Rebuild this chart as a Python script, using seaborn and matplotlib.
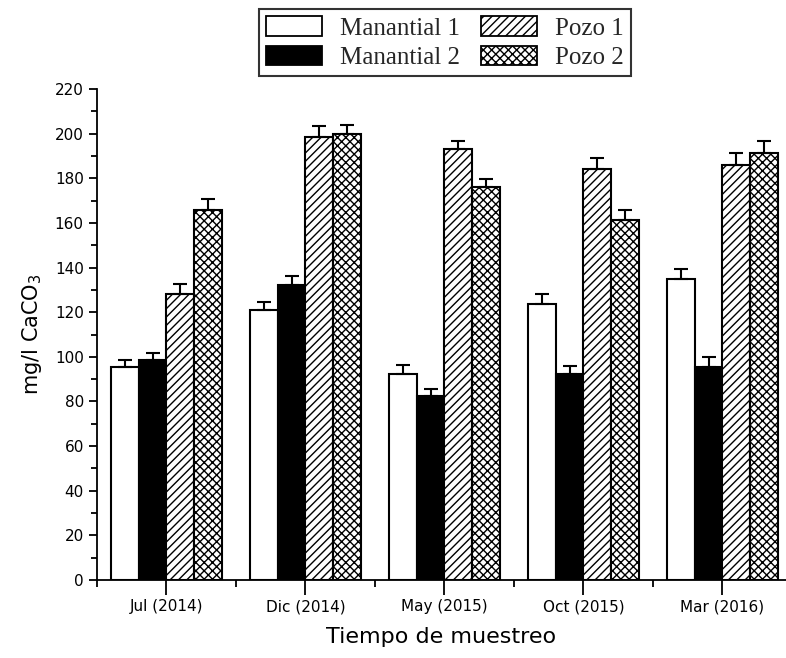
import numpy as np
import pandas as pd
import matplotlib
matplotlib.use("Agg")
import matplotlib.pyplot as plt
import seaborn as sns
from matplotlib.patches import Patch
from matplotlib.ticker import MultipleLocator, FixedLocator

# ---- data ----
categories = ["Jul (2014)", "Dic (2014)", "May (2015)", "Oct (2015)", "Mar (2016)"]
series = ["Manantial 1", "Manantial 2", "Pozo 1", "Pozo 2"]
manantial1 = [95.5, 121.0, 92.5, 123.5, 135.0]
manantial2 = [98.5, 132.0, 82.5, 92.5, 95.5]
pozo1 = [128.0, 198.5, 193.0, 184.0, 186.0]
pozo2 = [166.0, 200.0, 176.0, 161.5, 191.5]
err_m1 = [3.2, 3.7, 3.7, 4.5, 4.5]
err_m2 = [3.0, 4.0, 3.0, 3.5, 4.3]
err_p1 = [4.5, 4.8, 3.7, 5.3, 5.3]
err_p2 = [4.8, 4.0, 3.6, 4.5, 5.3]

values = [manantial1, manantial2, pozo1, pozo2]
errors = [err_m1, err_m2, err_p1, err_p2]

rows = []
for s, vals in zip(series, values):
    for c, v in zip(categories, vals):
        rows.append({"fecha": c, "serie": s, "valor": v})
df = pd.DataFrame(rows)

sns.set_theme(style="white")
plt.rcParams["font.family"] = ["DejaVu Sans"]
plt.rcParams["hatch.linewidth"] = 1.0

fig = plt.figure(figsize=(7.86, 6.58), dpi=100)
ax = fig.add_axes([0.1234, 0.1185, 1.0 - 0.1234, 0.8647 - 0.1185])

faces = ["white", "black", "white", "white"]
hatches = [None, None, "////", "xxxx"]

sns.barplot(data=df, x="fecha", y="valor", hue="serie", order=categories,
            hue_order=series, palette=faces, edgecolor="black", linewidth=1.5,
            errorbar=None, saturation=1, width=0.8, ax=ax, legend=False)

for cont, h, errs, vals in zip(ax.containers, hatches, errors, values):
    xs = []
    for bar in cont:
        if h:
            bar.set_hatch(h)
        bar.set_edgecolor("black")
        xs.append(bar.get_x() + bar.get_width() / 2)
    ax.errorbar(xs, vals, yerr=[np.zeros(len(errs)), errs], fmt="none",
                ecolor="black", elinewidth=1.5, capsize=5, capthick=1.5, zorder=1)

ax.set_ylim(0, 220)
ax.set_xlim(-0.5, -0.5 + (786 - 97) / 139.0)
ax.yaxis.set_major_locator(MultipleLocator(20))
ax.yaxis.set_minor_locator(MultipleLocator(10))
ax.xaxis.set_minor_locator(FixedLocator(np.arange(-0.5, 5.0, 1.0)))

for side in ["top", "right"]:
    ax.spines[side].set_visible(False)
for side in ["left", "bottom"]:
    ax.spines[side].set_color("black")
    ax.spines[side].set_linewidth(1.3)

ax.tick_params(axis="both", which="both", direction="out", color="black",
               width=1.3, labelsize=11, labelcolor="black")
ax.tick_params(axis="y", which="major", length=6, left=True)
ax.tick_params(axis="y", which="minor", length=4, left=True)
ax.tick_params(axis="x", which="major", length=11, bottom=True, pad=3)
ax.tick_params(axis="x", which="minor", length=5, bottom=True)

ax.set_ylabel("mg/l CaCO$_3$", fontsize=15, color="black", labelpad=8)
ax.set_xlabel("Tiempo de muestreo", fontsize=16, color="black", labelpad=9)

handles = [Patch(facecolor=f, edgecolor="black", hatch=h, linewidth=1.3)
           for f, h in zip(faces, hatches)]
leg = fig.legend(handles, series, loc="center", bbox_to_anchor=(0.566, 0.935),
                 ncol=2, frameon=True, fancybox=False, edgecolor="black",
                 prop={"family": "Liberation Serif", "size": 18},
                 handlelength=2.25, handleheight=0.8, handletextpad=0.72,
                 columnspacing=0.85, labelspacing=0.25, borderpad=0.28)
leg.get_frame().set_linewidth(1.5)

fig.savefig("out.png", dpi=100, facecolor="white")
